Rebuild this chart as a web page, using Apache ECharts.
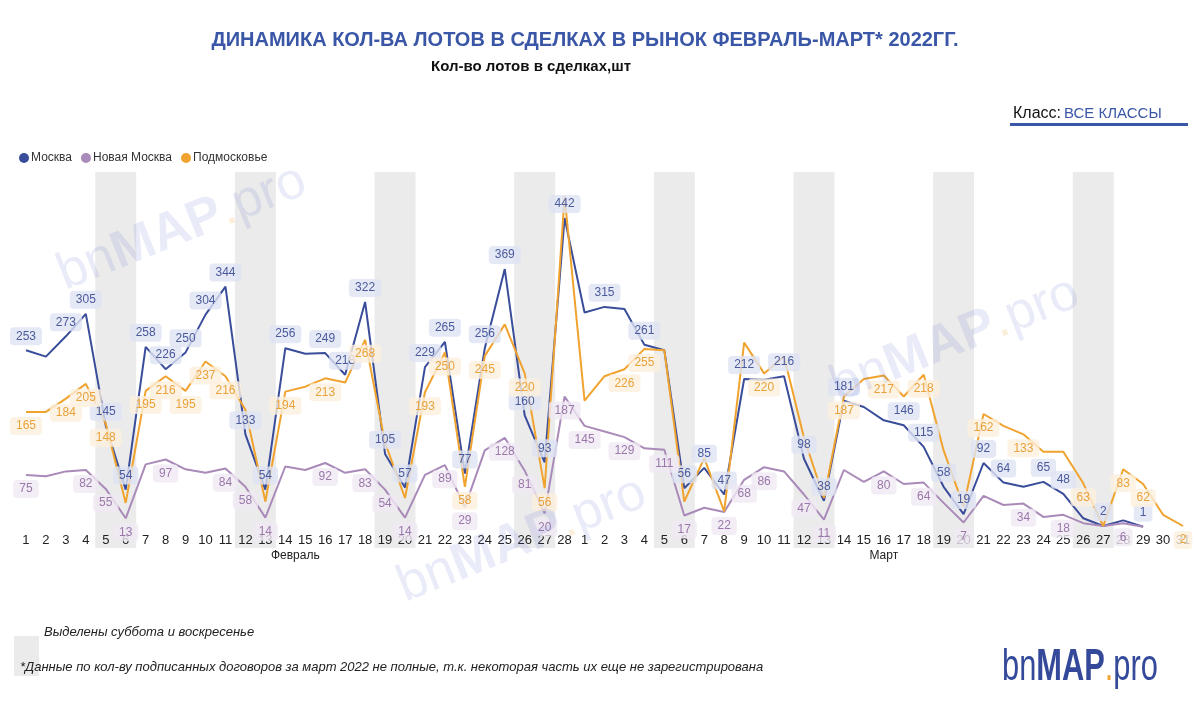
<!DOCTYPE html>
<html>
<head>
<meta charset="utf-8">
<script src="https://cdn.jsdelivr.net/npm/echarts@6/dist/echarts.min.js"></script>
<style>html,body{margin:0;padding:0;background:#fff;}#chart{width:1200px;height:708px;}</style>
</head>
<body>
<div id="chart"></div>
<script>
// ---- data ----
var days = ['1','2','3','4','5','6','7','8','9','10','11','12','13','14','15','16','17','18','19','20','21','22','23','24','25','26','27','28',
            '1','2','3','4','5','6','7','8','9','10','11','12','13','14','15','16','17','18','19','20','21','22','23','24','25','26','27','28','29','30','31'];
var months = ['Февраль', 'Март'];
var seriesNames = ['Москва', 'Новая Москва', 'Подмосковье'];
var moscow = [253,244,273,305,145,54,258,226,250,304,344,133,54,256,248,249,218,322,105,57,229,265,77,256,369,160,93,442,
              307,315,312,261,253,56,85,47,212,211,216,98,38,181,172,153,146,115,58,19,92,64,58,65,48,13,2,10,1,null,null];
var newMoscow = [75,73,80,82,55,13,90,97,83,78,84,58,14,87,82,92,78,83,54,14,75,89,29,110,128,81,20,187,
                 145,137,129,113,111,17,28,22,68,86,80,47,11,82,65,80,62,64,35,7,45,32,34,15,18,6,2,6,1,null,null];
var moscowRegion = [165,165,184,205,148,35,195,216,195,237,216,168,37,194,201,213,207,268,121,42,193,250,58,245,290,220,56,473,
                    181,216,226,255,253,37,99,23,264,220,244,128,42,187,212,217,187,218,110,30,162,145,133,108,108,63,2,83,62,18,2];
// weekends (Sat/Sun) flags
var weekend = [0,0,0,0,1,1,0,0,0,0,0,1,1,0,0,0,0,0,1,1,0,0,0,0,0,1,1,0,
               0,0,0,0,1,1,0,0,0,0,0,1,1,0,0,0,0,0,1,1,0,0,0,0,0,1,1,0,0,0,0];
// which points carry a value label
var moscowLabelled = [0,2,3,4,5,6,7,8,9,10,11,12,13,15,16,17,18,19,20,21,22,23,24,25,26,27,29,31,33,34,35,36,38,39,40,41,44,45,46,47,48,49,51,52,54,56];
var regionLabelled = [0,2,3,4,6,7,8,9,10,13,15,17,20,21,22,23,25,26,30,31,37,41,43,45,48,50,53,55,56,58];
var newMoscowLabelled = [0,3,4,5,7,10,11,12,15,17,18,19,21,22,24,25,26,27,28,30,32,33,35,36,37,39,40,43,45,47,50,52,55];
var monthCenters = [14, 43.5];

function withLabels(values, labelled) {
  return values.map(function (v, i) {
    return { value: v, label: { show: labelled.indexOf(i) >= 0 && v !== null } };
  });
}

var C_BLUE = '#3a4d9b', C_PURPLE = '#a98ab9', C_ORANGE = '#f0a32e';
var FONT = 'Liberation Sans, Arial, sans-serif';

var chart = echarts.init(document.getElementById('chart'));
var WM = 'rgba(70,100,200,0.12)';
function watermark(x, y) {
  return { type: 'text', x: x, y: y, rotation: 0.38, z: 100, silent: true,
    style: { text: '{a|bn}{b|MAP}{d|.}{c|pro}', align: 'center', verticalAlign: 'middle',
      rich: {
        a: { fontSize: 52, fontFamily: FONT, fill: WM },
        b: { fontSize: 52, fontFamily: FONT, fontWeight: 900, fill: WM },
        d: { fontSize: 52, fontFamily: FONT, fill: 'rgba(240,163,46,0.18)' },
        c: { fontSize: 52, fontFamily: FONT, fill: WM }
      } } };
}
function lineLabel(pos, color, bg) {
  return { position: pos, distance: 5, fontSize: 12, color: color, backgroundColor: bg, padding: [3, 6], borderRadius: 4 };
}

chart.setOption({
  animation: false,
  textStyle: { fontFamily: FONT },
  title: [
    { text: 'ДИНАМИКА КОЛ-ВА ЛОТОВ В СДЕЛКАХ В РЫНОК ФЕВРАЛЬ-МАРТ* 2022ГГ.', left: 580, top: 25, textAlign: 'center',
      textStyle: { fontSize: 20, fontWeight: 'bold', color: '#3a56a6', fontFamily: FONT } },
    { text: 'Кол-во лотов в сделках,шт', left: 526, top: 54, textAlign: 'center',
      textStyle: { fontSize: 15, fontWeight: 'bold', color: '#111', fontFamily: FONT } },
    { text: '{k|Класс:}{v|ВСЕ КЛАССЫ}', left: 1008, top: 101,
      textStyle: { rich: { k: { fontSize: 16, fontWeight: 'normal', color: '#111', fontFamily: FONT, padding: [0, 3, 0, 0] },
                           v: { fontSize: 15, fontWeight: 'normal', color: '#3a56a6', fontFamily: FONT } } } }
  ],
  legend: {
    left: 14, top: 147, icon: 'circle', itemWidth: 10, itemHeight: 10, itemGap: 9,
    data: seriesNames, textStyle: { fontSize: 12, color: '#333', padding: [0, 0, 0, -3] }
  },
  graphic: [
    watermark(182, 228), watermark(955, 340), watermark(522, 540),
    { type: 'rect', shape: { x: 1010, y: 123, width: 178, height: 3 }, style: { fill: '#3a56a6' } },
    { type: 'rect', shape: { x: 14, y: 636, width: 25, height: 40 }, style: { fill: '#ebebeb' } },
    { type: 'text', x: 44, y: 632, style: { text: 'Выделены суббота и воскресенье', font: 'italic 13px ' + FONT, fill: '#222', verticalAlign: 'middle' } },
    { type: 'text', x: 20, y: 667, style: { text: '*Данные по кол-ву подписанных договоров за март 2022 не полные, т.к. некоторая часть их еще не зарегистрирована', font: 'italic 13px ' + FONT, fill: '#222', verticalAlign: 'middle' } },
    { type: 'text', x: 1002, y: 668, scaleX: 0.7, style: { text: '{a|bn}{b|MAP}{d|.}{c|pro}', verticalAlign: 'middle',
        rich: { a: { fontSize: 44, fontFamily: FONT, fill: '#34499a' }, b: { fontSize: 44, fontFamily: FONT, fontWeight: 900, fill: '#34499a' },
                d: { fontSize: 44, fontFamily: FONT, fill: '#f0a32e' }, c: { fontSize: 44, fontFamily: FONT, fill: '#34499a' } } } }
  ],
  grid: [
    { left: 16, right: 7, top: 177.4, bottom: 180.6 },
    { left: 16, right: 7, top: 172, bottom: 160 }
  ],
  xAxis: [
    { type: 'category', data: days, gridIndex: 0, boundaryGap: true,
      axisLine: { show: false }, axisTick: { show: false },
      axisLabel: { interval: 0, fontSize: 13, color: '#222', margin: 7 } },
    { type: 'value', gridIndex: 0, min: 0, max: 59, interval: 0.5, position: 'bottom', offset: 16,
      axisLine: { show: false }, axisTick: { show: false }, splitLine: { show: false },
      axisLabel: { fontSize: 12, color: '#222', margin: 6,
        formatter: function (v) { var k = monthCenters.indexOf(v); return k >= 0 ? months[k] : ''; } } },
    { type: 'category', data: days, gridIndex: 1, show: false, boundaryGap: true }
  ],
  yAxis: [
    { type: 'value', gridIndex: 0, min: 0, max: 500, show: false, splitLine: { show: false } },
    { type: 'value', gridIndex: 1, min: 0, max: 1, show: false, splitLine: { show: false } }
  ],
  series: [
    { type: 'bar', xAxisIndex: 2, yAxisIndex: 1, data: weekend, barWidth: 21, z: 0,
      itemStyle: { color: '#ebebeb' }, silent: true },
    { name: seriesNames[0], type: 'line', xAxisIndex: 0, yAxisIndex: 0, data: withLabels(moscow, moscowLabelled),
      symbol: 'circle', symbolSize: 0.1, showAllSymbol: true, lineStyle: { color: C_BLUE, width: 2 }, itemStyle: { color: C_BLUE }, z: 3,
      label: lineLabel('top', '#4a5a9c', 'rgba(222,227,242,0.8)') },
    { name: seriesNames[1], type: 'line', xAxisIndex: 0, yAxisIndex: 0, data: withLabels(newMoscow, newMoscowLabelled),
      symbol: 'circle', symbolSize: 0.1, showAllSymbol: true, lineStyle: { color: C_PURPLE, width: 2 }, itemStyle: { color: C_PURPLE }, z: 3,
      label: lineLabel('bottom', '#9a78aa', 'rgba(240,232,244,0.8)') },
    { name: seriesNames[2], type: 'line', xAxisIndex: 0, yAxisIndex: 0, data: withLabels(moscowRegion, regionLabelled),
      symbol: 'circle', symbolSize: 0.1, showAllSymbol: true, lineStyle: { color: C_ORANGE, width: 2 }, itemStyle: { color: C_ORANGE }, z: 3,
      label: lineLabel('bottom', '#e8a23c', 'rgba(253,240,222,0.8)') }
  ]
});
</script>
</body>
</html>
